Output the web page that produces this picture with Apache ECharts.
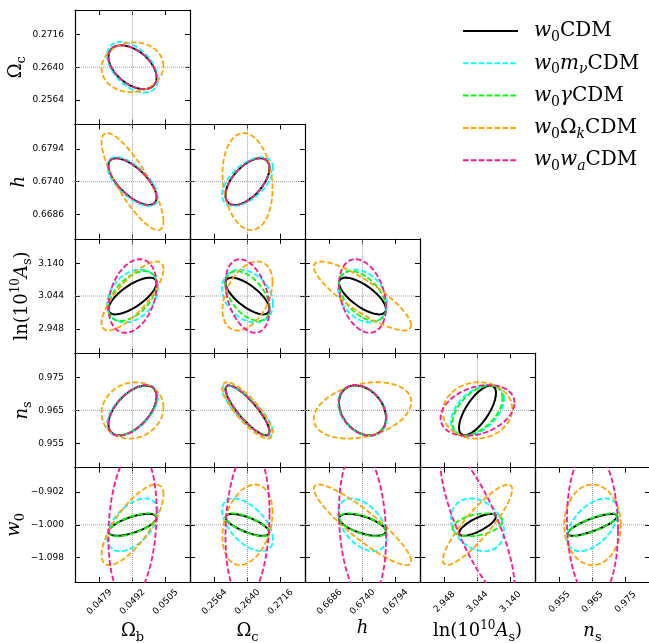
<!DOCTYPE html>
<html><head><meta charset="utf-8">
<script src="https://cdn.jsdelivr.net/npm/echarts@6/dist/echarts.min.js"></script>
<style>html,body{margin:0;padding:0;background:#fff}#c{width:649px;height:643px}</style>
</head><body><div id="c"></div>
<script>
// ---------------- data ----------------
// parameters: Omega_b, Omega_c, h, ln(10^10 A_s), n_s, w_0
const fiducial = [0.0492, 0.2640, 0.6740, 3.044, 0.965, -1.000];
const tickStep = [0.0013, 0.0076, 0.0054, 0.096, 0.010, 0.098];
const tickLabels = [
  ['0.0479', '0.0492', '0.0505'],
  ['0.2564', '0.2640', '0.2716'],
  ['0.6686', '0.6740', '0.6794'],
  ['2.948', '3.044', '3.140'],
  ['0.955', '0.965', '0.975'],
  ['\u22121.098', '\u22121.000', '\u22120.902']
];
const axisTitles = [
  '{r|\u03A9}{sub|b}',
  '{r|\u03A9}{sub|c}',
  '{i|h}',
  '{r|ln(10}{sup|10}{i|A}{sub|s}{r|)}',
  '{i|n}{sub|s}',
  '{i|w}{sub|0}'
];
const modelNames = ['w0CDM', 'w0mnuCDM', 'w0gammaCDM', 'w0OkCDM', 'w0waCDM'];
const modelLabels = [
  '{i|w}{sub|0}{r|CDM}',
  '{i|w}{sub|0}{i|m}{subi|\u03BD}{r|CDM}',
  '{i|w}{sub|0}{i|\u03B3}{r|CDM}',
  '{i|w}{sub|0}{r|\u03A9}{subi|k}{r|CDM}',
  '{i|w}{sub|0}{i|w}{subi|a}{r|CDM}'
];
const modelColors = ['#000000', '#00FFFF', '#00FF00', '#FFA500', '#FF1493'];

// half-extent of each 2D contour along each parameter axis (data units)
const extentW0CDM     = [0.00095, 0.00507, 0.00385, 0.0538, 0.00758, 0.0327];
const extentW0MnuCDM  = [0.00100, 0.00587, 0.00401, 0.0771, 0.00773, 0.0787];
const extentW0GammaCDM= [0.00095, 0.00507, 0.00385, 0.0727, 0.00758, 0.0342];
const extentW0OkCDM   = [0.00122, 0.00576, 0.00798, 0.1009, 0.00858, 0.1203];
const extentW0WaCDM   = [0.00095, 0.00507, 0.00385, 0.1076, 0.00773, 0.2257];

// parameter pairs (x, y) and correlation of each model in each pair
const pairs = [[0,1],[0,2],[1,2],[0,3],[1,3],[2,3],[0,4],[1,4],[2,4],[3,4],[0,5],[1,5],[2,5],[3,5],[4,5]];
const corrW0CDM      = [-0.47, -0.68,  0.58, 0.72, -0.72, -0.72, 0.55, -0.85, -0.30, 0.70, 0.65, -0.70, -0.60,  0.75,  0.80];
const corrW0MnuCDM   = [-0.47, -0.65,  0.55, 0.30, -0.30, -0.30, 0.55, -0.83, -0.30, 0.45, 0.50, -0.55, -0.45, -0.25,  0.50];
const corrW0GammaCDM = [-0.47, -0.68,  0.58, 0.50, -0.50, -0.50, 0.55, -0.85, -0.30, 0.50, 0.65, -0.70, -0.60,  0.35,  0.80];
const corrW0OkCDM    = [ 0.05, -0.82, -0.15, 0.78,  0.40, -0.85, 0.10, -0.82,  0.30, 0.05, 0.75,  0.30, -0.90,  0.88,  0.00];
const corrW0WaCDM    = [-0.47, -0.68,  0.58, 0.30, -0.35, -0.30, 0.55, -0.85, -0.30, 0.30, 0.17,  0.15, -0.17, -0.80, -0.07];

const extents = [extentW0CDM, extentW0MnuCDM, extentW0GammaCDM, extentW0OkCDM, extentW0WaCDM];
const corrs = [corrW0CDM, corrW0MnuCDM, corrW0GammaCDM, corrW0OkCDM, corrW0WaCDM];

// ---------------- layout ----------------
const GX0 = 75, GY0 = 10, GW = 115, GH = 114.4, RANGE = 1.742;
const serif = 'DejaVu Serif';
const nameRich = {
  r: {fontFamily: serif, fontSize: 18, color: '#000'},
  i: {fontFamily: serif, fontSize: 18, fontStyle: 'italic', color: '#000'},
  sub: {fontFamily: serif, fontSize: 13, color: '#000', padding: [12, 0, 0, 0]},
  subi: {fontFamily: serif, fontSize: 13, fontStyle: 'italic', color: '#000', padding: [12, 0, 0, 0]},
  sup: {fontFamily: serif, fontSize: 12, color: '#000', padding: [0, 0, 12, 0]}
};

function pairIndex(px, py) {
  return pairs.findIndex(p => p[0] === px && p[1] === py);
}
function contour(m, px, py) {
  const ax = extents[m][px], ay = extents[m][py];
  const rho = corrs[m][pairIndex(px, py)];
  const s = Math.sqrt(1 - rho * rho);
  const pts = [];
  const N = 180;
  for (let k = 0; k <= N; k++) {
    const t = 2 * Math.PI * k / N;
    pts.push([fiducial[px] + ax * Math.cos(t), fiducial[py] + ay * (rho * Math.cos(t) + s * Math.sin(t))]);
  }
  return pts;
}
function lo(p) { return fiducial[p] - RANGE * tickStep[p]; }
function hi(p) { return fiducial[p] + RANGE * tickStep[p]; }
function ticksOf(p) {
  return [fiducial[p] - tickStep[p], fiducial[p], fiducial[p] + tickStep[p]];
}
function fmt(p) {
  return function (v) {
    const idx = Math.round((v - fiducial[p]) / tickStep[p]) + 1;
    return tickLabels[p][idx] || '';
  };
}
function makeAxis(p, gridIndex, position, showLabels, showName, isX) {
  const ax = {
    type: 'value', gridIndex: gridIndex, position: position,
    min: lo(p), max: hi(p),
    axisLine: {show: true, onZero: false, lineStyle: {color: '#000', width: 1.2}},
    axisTick: {show: true, inside: true, length: 5, customValues: ticksOf(p), lineStyle: {color: '#000', width: 1}},
    splitLine: {show: false},
    axisLabel: {show: showLabels, customValues: ticksOf(p), formatter: fmt(p),
      fontFamily: 'DejaVu Sans', fontSize: 9, color: '#000', margin: 11}
  };
  if (isX && showLabels) {
    ax.axisLabel.rotate = 45;
    ax.axisLabel.align = 'center';
    ax.axisLabel.verticalAlign = 'middle';
    ax.axisLabel.margin = 20;
  }
  if (showName) {
    ax.name = axisTitles[p];
    ax.nameLocation = 'middle';
    ax.nameTextStyle = {rich: nameRich};
    if (isX) { ax.nameGap = 37; }
    else { ax.nameRotate = 90; ax.nameGap = 36; }
  }
  return ax;
}

const grids = [], xAxes = [], yAxes = [], series = [];
const crossStyle = {color: '#a0a0a0', type: 'dotted', width: 1};
let gi = 0;
for (let r = 0; r < 5; r++) {
  for (let c = 0; c <= r; c++) {
    const px = c, py = r + 1;
    grids.push({left: GX0 + GW * c, top: GY0 + GH * r, width: GW, height: GH,
      containLabel: false, outerBoundsMode: 'none'});
    const xb = xAxes.length;
    xAxes.push(makeAxis(px, gi, 'bottom', r === 4, r === 4, true));
    xAxes.push(makeAxis(px, gi, 'top', false, false, true));
    const yl = yAxes.length;
    yAxes.push(makeAxis(py, gi, 'left', c === 0, c === 0, false));
    yAxes.push(makeAxis(py, gi, 'right', false, false, false));
    // fiducial crosshair
    series.push({
      type: 'line', name: 'fiducial', xAxisIndex: xb, yAxisIndex: yl, z: 1, silent: true,
      data: [[fiducial[px], lo(py)], [fiducial[px], hi(py)]], showSymbol: false, symbol: 'none',
      lineStyle: crossStyle
    });
    series.push({
      type: 'line', name: 'fiducial', xAxisIndex: xb, yAxisIndex: yl, z: 1, silent: true,
      data: [[lo(px), fiducial[py]], [hi(px), fiducial[py]]], showSymbol: false, symbol: 'none',
      lineStyle: crossStyle
    });
    for (let m = 0; m < 5; m++) {
      series.push({
        type: 'line', name: modelNames[m], xAxisIndex: xb, yAxisIndex: yl, z: 2 + m,
        data: contour(m, px, py), showSymbol: false, symbol: 'none', smooth: false,
        clip: true, silent: true,
        lineStyle: m === 0 ? {color: modelColors[m], width: 2, type: 'solid'}
                           : {color: modelColors[m], width: 1.8, type: [5.5, 2.4]},
        itemStyle: {color: modelColors[m]}
      });
    }
    gi++;
  }
}

const legendRich = {
  r: {fontFamily: serif, fontSize: 20, color: '#000'},
  i: {fontFamily: serif, fontSize: 20, fontStyle: 'italic', color: '#000'},
  sub: {fontFamily: serif, fontSize: 14, color: '#000', padding: [13, 0, 0, 0]},
  subi: {fontFamily: serif, fontSize: 14, fontStyle: 'italic', color: '#000', padding: [13, 0, 0, 0]}
};

const chart = echarts.init(document.getElementById('c'), null, {renderer: 'canvas'});
chart.setOption({
  animation: false,
  backgroundColor: '#fff',
  grid: grids, xAxis: xAxes, yAxis: yAxes, series: series,
  legend: {
    data: modelNames, orient: 'vertical', left: 462, top: 21, padding: 0,
    itemWidth: 55, itemHeight: 14, itemGap: 8.8, selectedMode: false,
    itemStyle: {opacity: 0},
    formatter: name => modelLabels[modelNames.indexOf(name)],
    textStyle: {rich: legendRich, padding: [0, 0, 0, 11]}
  }
});
</script></body></html>
